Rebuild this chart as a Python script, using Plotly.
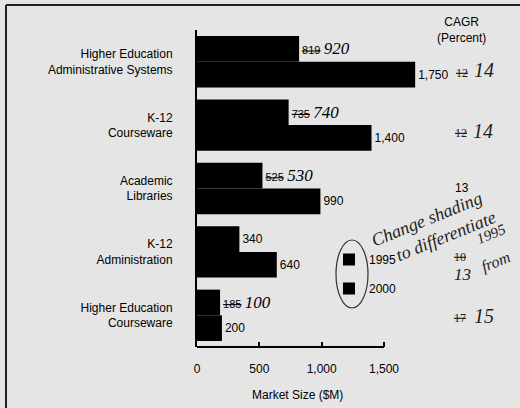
import plotly.graph_objects as go

# Market segments (top to bottom) and market size in $M
categories = [
    "Higher Education<br>Administrative Systems",
    "K-12<br>Courseware",
    "Academic<br>Libraries",
    "K-12<br>Administration",
    "Higher Education<br>Courseware",
]
size_1995 = [819, 735, 525, 340, 185]
size_2000 = [1750, 1400, 990, 640, 200]
revised_1995 = ["920", "740", "530", None, "100"]

# CAGR column: printed figure, whether it was struck out, and the pen revision
cagr_printed = ["12", "12", "13", "10", "17"]
cagr_struck = [True, True, False, True, True]
cagr_revised = ["14", "14", None, "13", "15"]

tick_vals = [0, 500, 1000, 1500]
tick_text = ["0", "500", "1,000", "1,500"]

SANS = "Liberation Sans, Arial, sans-serif"
PEN = "Liberation Serif, serif"
INK = "#1e1e1e"
BG = "#e5e5e5"

# plot-area geometry in pixels
L, T, W, H = 197, 30, 323, 317
X_MAX = 1500 * W / 187.0  # 1,500 sits 187 px right of zero


def px(x):
    return (x - L) / W


def py(y):
    return (T + H - y) / H


def pen(s, size=17):
    return f"<span style='font-family:{PEN};font-style:italic;font-size:{size}px'>{s}</span>"


def note(x, y, text, family=SANS, size=12, color="black", angle=0):
    return dict(xref="paper", yref="paper", x=px(x), y=py(y), text=text,
                xanchor="center", yanchor="middle", textangle=angle,
                showarrow=False, font=dict(family=family, size=size, color=color))


labels_1995 = []
for v, r in zip(size_1995, revised_1995):
    if r is None:
        labels_1995.append(f"{v:,}")
    else:
        labels_1995.append(f"<span style='font-size:11px'><s>{v:,}</s></span> " + pen(r, 17))
labels_2000 = [f"{v:,}" for v in size_2000]

fig = go.Figure()
fig.add_trace(go.Bar(
    name="1995", y=categories, x=size_1995, orientation="h",
    marker=dict(color="black", line=dict(width=0)),
    text=labels_1995, textposition="outside", constraintext="none",
    textfont=dict(family=SANS, size=12, color="black"),
    legendgroup="a", hoverinfo="skip",
))
fig.add_trace(go.Bar(
    name="2000", y=categories, x=size_2000, orientation="h",
    marker=dict(color="black", line=dict(width=0)),
    text=labels_2000, textposition="outside", constraintext="none",
    textfont=dict(family=SANS, size=12, color="black"),
    legendgroup="b", hoverinfo="skip",
))

annotations = [
    note(297, 395, "Market Size ($M)"),
    note(461, 30, "CAGR<br>(Percent)"),
]

# CAGR values per row
row_y = [73, 133, 188, 257, 318]
struck_x = [462, 461, 462, 460, 460]
rev_pos = [(484, 70), (483, 131), None, (462, 274), (484, 316)]
for i, (p, s, r) in enumerate(zip(cagr_printed, cagr_struck, cagr_revised)):
    if s:
        annotations.append(note(struck_x[i], row_y[i], f"<s>{p}</s>", PEN, 12, INK))
    else:
        annotations.append(note(struck_x[i], row_y[i], p))
    if r is not None:
        rx, ry = rev_pos[i]
        size = 17 if i == 3 else 20
        annotations.append(note(rx, ry, pen(r, size), PEN, size, INK))

# pen note beside the legend
for txt, x, y, s in [("Change shading", 427, 219, 18), ("to differentiate", 446, 236, 18),
                     ("1995", 491, 234, 15), ("from", 496, 262, 16)]:
    annotations.append(note(x, y, pen(txt, s), PEN, s, INK, angle=-22))

shapes = [
    # x axis line, drawn only across the labelled range
    dict(type="line", xref="x", yref="paper", x0=0, x1=1500, y0=0, y1=0,
         line=dict(color="black", width=2)),
    # page frame
    dict(type="line", xref="paper", yref="paper", x0=px(6), x1=px(520), y0=py(5), y1=py(5),
         line=dict(color="#222", width=2)),
    dict(type="line", xref="paper", yref="paper", x0=px(6), x1=px(6), y0=py(5), y1=py(408),
         line=dict(color="#222", width=2)),
    # pen loop around the legend
    dict(type="circle", xref="paper", yref="paper", x0=px(336), x1=px(368),
         y0=py(308), y1=py(240), line=dict(color="#333", width=1.2)),
]

fig.update_layout(
    width=520, height=408,
    margin=dict(l=L, r=520 - L - W, t=T, b=408 - T - H, pad=0),
    paper_bgcolor=BG, plot_bgcolor=BG,
    barmode="group", bargap=0.19, bargroupgap=0,
    font=dict(family=SANS, size=12, color="black"),
    showlegend=True,
    legend=dict(x=px(329), y=py(245), xanchor="left", yanchor="top",
                bgcolor="rgba(0,0,0,0)", borderwidth=0, tracegroupgap=10,
                traceorder="grouped", itemwidth=30,
                font=dict(family=SANS, size=12, color="black")),
    xaxis=dict(range=[0, X_MAX], tickvals=tick_vals, ticktext=tick_text,
               ticks="inside", ticklen=5, tickwidth=1.5, tickcolor="black",
               showline=False, zeroline=False, showgrid=False,
               tickfont=dict(family=SANS, size=12, color="black"),
               ticklabelstandoff=13),
    yaxis=dict(type="category", categoryorder="array", categoryarray=categories,
               autorange="reversed", showline=True, linecolor="black", linewidth=2,
               ticks="", showgrid=False, zeroline=False, ticklabelstandoff=20,
               tickfont=dict(family=SANS, size=12, color="black")),
    annotations=annotations,
    shapes=shapes,
)

fig.write_html("out.html")
